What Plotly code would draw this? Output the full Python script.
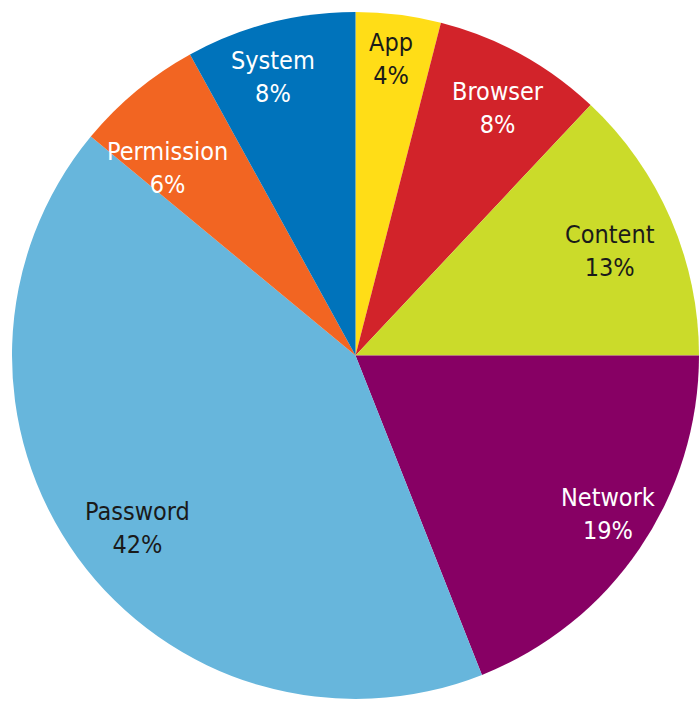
import math
import plotly.graph_objects as go

# Share of incidents by category, clockwise from 12 o'clock
categories = ["App", "Browser", "Content", "Network", "Password", "Permission", "System"]
shares = [4, 8, 13, 19, 42, 6, 8]
slice_colors = ["#FFDD17", "#D2232A", "#CBDB2A", "#870064", "#67B6DC", "#F26522", "#0073BB"]
label_colors = ["#1a1a1a", "#ffffff", "#1a1a1a", "#ffffff", "#1a1a1a", "#ffffff", "#ffffff"]
# (angle nudge in degrees, radius fraction) for each category label
label_place = [(-0.4, 0.868), (1.1, 0.83), (1.0, 0.80), (-2.0, 0.868),
               (-2.4, 0.81), (-5.4, 0.773), (-2.2, 0.845)]

W, H = 699, 704
ML, MR, MT, MB = 12, 0, 9, 2
pw, ph = W - ML - MR, H - MT - MB
cx, cy = ML + pw / 2, MT + ph / 2
R = min(pw, ph) / 2

FONT = "DejaVu Sans Condensed, Liberation Sans Narrow, Arial Narrow, sans-serif"

fig = go.Figure(go.Pie(
    labels=categories,
    values=shares,
    sort=False,
    direction="clockwise",
    rotation=0,
    marker=dict(colors=slice_colors, line=dict(width=0)),
    textinfo="none",
    hoverinfo="label+percent",
    showlegend=False,
))

total = sum(shares)
start = 0.0
annotations = []
for name, val, col, (nudge, rf) in zip(categories, shares, label_colors, label_place):
    span = 360.0 * val / total
    ang = math.radians(start + span / 2 + nudge)
    start += span
    px = cx + rf * R * math.sin(ang)
    py = cy - rf * R * math.cos(ang)
    annotations.append(dict(
        x=(px - ML) / pw, y=1 - (py - MT) / ph,
        xref="paper", yref="paper",
        text=f"{name}<br>{round(100 * val / total)}%",
        showarrow=False, align="center",
        xanchor="center", yanchor="middle",
        font=dict(family=FONT, size=25, color=col),
    ))

fig.update_layout(
    width=W, height=H,
    margin=dict(l=ML, r=MR, t=MT, b=MB, pad=0),
    paper_bgcolor="white",
    plot_bgcolor="white",
    annotations=annotations,
)

fig.write_html("out.html", config={"displayModeBar": False})
